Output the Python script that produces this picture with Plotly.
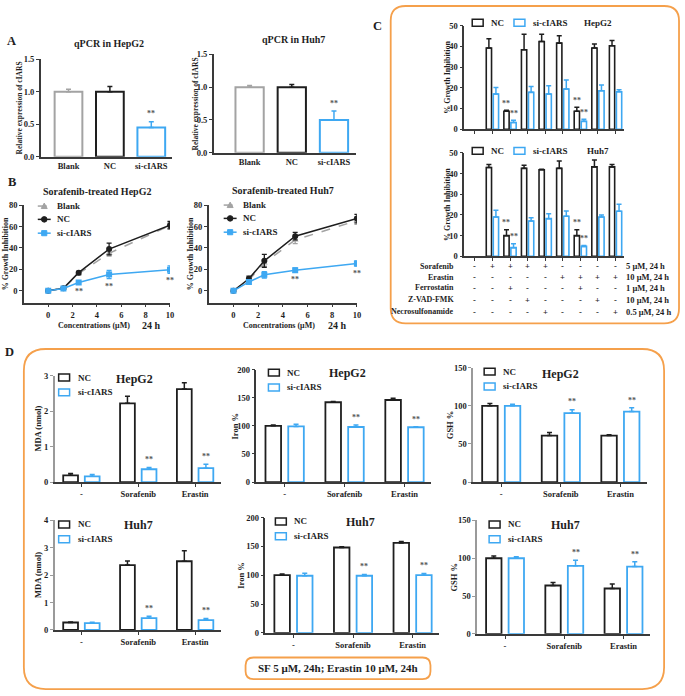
import plotly.graph_objects as go

W, H = 685, 696
FONT = "Liberation Serif, 'Times New Roman', serif"
BLACK = "#1e1e1e"
BLUE = "#3ea8f2"
GRAY = "#a3a3a3"
AXIS = "#3a3a3a"
LAXIS = "#9a9a9a"
ORANGE = "#f5a04b"

# ---------------- data ----------------
qpcr_groups = ["Blank", "NC", "si-cIARS"]
qpcr_hepg2 = [1.0, 1.0, 0.45]
qpcr_hepg2_err = [0.04, 0.08, 0.09]
qpcr_huh7 = [1.0, 1.0, 0.50]
qpcr_huh7_err = [0.025, 0.04, 0.135]
qpcr_sig = ["", "", "**"]

conc = [0, 1.25, 2.5, 5, 10]
b_hepg2_blank = [0, 2.5, 16, 35, 61]
b_hepg2_blank_err = [0.5, 0.5, 1.5, 2.5, 3]
b_hepg2_nc = [0, 2.5, 17, 39, 61.3]
b_hepg2_nc_err = [0.5, 0.5, 1.2, 5.5, 3.5]
b_hepg2_si = [0, 2.2, 7.8, 15.2, 19.8]
b_hepg2_si_err = [0.5, 0.5, 1.2, 3.8, 3.5]
b_hepg2_sig = ["", "", "**", "**", "**"]
b_huh7_blank = [0, 10, 26, 47.5, 65.5]
b_huh7_blank_err = [0.5, 2.5, 3, 3.5, 3.5]
b_huh7_nc = [0, 11.3, 28, 51, 67.4]
b_huh7_nc_err = [0.5, 2.5, 6, 3.5, 4]
b_huh7_si = [0, 8.3, 15, 19.3, 25.5]
b_huh7_si_err = [0.5, 2, 3, 2, 2.5]
b_huh7_sig = ["", "", "", "**", "**"]

c_hepg2_nc = [None, 39.2, 8.7, 38.4, 42.4, 41.6, 8.7, 39.2, 40.3]
c_hepg2_nc_err = [0, 4.5, 0.4, 7.5, 3.5, 3.6, 1.9, 1.9, 2.6]
c_hepg2_si = [None, 17.0, 3.2, 17.8, 17.0, 19.4, 3.8, 18.6, 18.1]
c_hepg2_si_err = [0, 3.2, 1.1, 2.8, 4.0, 4.4, 1.0, 2.8, 0.9]
c_huh7_nc = [None, 42.9, 10.0, 42.5, 41.8, 42.5, 10.0, 43.2, 43.2]
c_huh7_nc_err = [0, 1.5, 2.9, 1.5, 0.3, 3.5, 2.9, 3.3, 1.2]
c_huh7_si = [None, 19.0, 4.2, 17.1, 18.2, 19.4, 4.8, 19.0, 21.8]
c_huh7_si_err = [0, 3.3, 1.9, 1.6, 2.4, 2.5, 0.4, 1.0, 3.4]
c_sig = ["", "", "**", "", "", "", "**", "", ""]

treat_rows = ["Sorafenib", "Erastin", "Ferrostatin", "Z-VAD-FMK", "Necrosulfonamide"]
treat_doses = ["5 μM, 24 h", "10 μM, 24 h", "1 μM, 24 h", "10 μM, 24 h", "0.5 μM, 24 h"]
treat_signs = [
    ["-", "+", "+", "+", "+", "-", "-", "-", "-"],
    ["-", "-", "-", "-", "-", "+", "+", "+", "+"],
    ["-", "-", "+", "-", "-", "-", "+", "-", "-"],
    ["-", "-", "-", "+", "-", "-", "-", "+", "-"],
    ["-", "-", "-", "-", "+", "-", "-", "-", "+"],
]

d_groups = ["-", "Sorafenib", "Erastin"]
d_sig = ["", "**", "**"]
mda_hepg2_nc = [0.19, 2.22, 2.62]
mda_hepg2_nc_err = [0.05, 0.2, 0.18]
mda_hepg2_si = [0.16, 0.36, 0.39]
mda_hepg2_si_err = [0.05, 0.05, 0.11]
iron_hepg2_nc = [100, 142, 146]
iron_hepg2_nc_err = [1.5, 1.5, 3]
iron_hepg2_si = [99, 98, 97.5]
iron_hepg2_si_err = [4, 3.5, 1]
gsh_hepg2_nc = [100, 61, 61]
gsh_hepg2_nc_err = [3, 4, 1]
gsh_hepg2_si = [100, 90.5, 92.5]
gsh_hepg2_si_err = [2, 4.5, 5]
mda_huh7_nc = [0.27, 2.37, 2.51]
mda_huh7_nc_err = [0.02, 0.15, 0.38]
mda_huh7_si = [0.25, 0.43, 0.36]
mda_huh7_si_err = [0.03, 0.07, 0.06]
iron_huh7_nc = [100, 148, 156]
iron_huh7_nc_err = [2, 1.5, 2.5]
iron_huh7_si = [99, 99, 100]
iron_huh7_si_err = [4.5, 2, 3]
gsh_huh7_nc = [100, 64, 60]
gsh_huh7_nc_err = [3, 4, 6]
gsh_huh7_si = [100, 90, 89]
gsh_huh7_si_err = [2, 7.5, 6.5]

# ---------------- helpers ----------------
fig = go.Figure()
axes_layout = {}
annotations = []
shapes = []


def fx(x):
    return x / W


def fy(y):
    return 1 - y / H


def tfont(size=8.5, color=BLACK):
    return dict(family=FONT, size=size, color=color, weight="bold")


def add_axes(i, left, right, top, bottom, xr, yr, ytickvals, xtickvals=None,
             xticktext=None, ycol=AXIS, xcol=AXIS, xlabels=True, ytickformat=None):
    xn = "xaxis" if i == 1 else f"xaxis{i}"
    yn = "yaxis" if i == 1 else f"yaxis{i}"
    xref = "x" if i == 1 else f"x{i}"
    yref = "y" if i == 1 else f"y{i}"
    axes_layout[xn] = dict(domain=[fx(left), fx(right)], anchor=yref, range=xr,
                           showline=True, linecolor=xcol, linewidth=1.5,
                           ticks="outside", ticklen=3, tickwidth=1.2, tickcolor=xcol,
                           tickvals=xtickvals, ticktext=xticktext,
                           showticklabels=xlabels, tickfont=tfont(8.5),
                           showgrid=False, zeroline=False, fixedrange=True)
    axes_layout[yn] = dict(domain=[fy(bottom), fy(top)], anchor=xref, range=yr,
                           showline=True, linecolor=ycol, linewidth=1.5,
                           ticks="outside", ticklen=3, tickwidth=1.2, tickcolor=ycol,
                           tickvals=ytickvals, tickformat=ytickformat,
                           tickfont=tfont(8.5), showgrid=False, zeroline=False,
                           fixedrange=True)
    return xref, yref


def add_bars(xa, ya, vals, errs, color, center, width, sig=None, lw=1.8, pad=0.0):
    xs = list(range(len(vals)))
    fig.add_trace(go.Bar(
        x=xs, y=vals, width=width, offset=center - width / 2,
        marker=dict(color="white", line=dict(color=color, width=lw)),
        error_y=dict(type="data", array=errs, arrayminus=[0] * len(errs),
                     symmetric=False, color=color, thickness=1.5, width=2.5),
        xaxis=xa, yaxis=ya, showlegend=False, hoverinfo="skip"))
    if sig:
        for k, s in enumerate(sig):
            if s and vals[k] is not None:
                annotations.append(dict(x=k + center, y=vals[k] + errs[k] + pad,
                                        xref=xa, yref=ya, text=s, showarrow=False,
                                        yanchor="bottom", font=tfont(8, "#555555")))


def text(x, y, s, size=8.5, anchor="center", angle=0, color=BLACK):
    annotations.append(dict(x=fx(x), y=fy(y), xref="paper", yref="paper", text=s,
                            showarrow=False, xanchor=anchor, yanchor="middle",
                            textangle=angle, font=tfont(size, color)))


def legend_box(x0, y, color, label, size=9):
    shapes.append(dict(type="rect", xref="paper", yref="paper",
                       x0=fx(x0), x1=fx(x0 + 11), y0=fy(y + 3.5), y1=fy(y - 3.5),
                       line=dict(color=color, width=1.5), fillcolor="white"))
    text(x0 + 17, y, label, size=size, anchor="left")


def legend_line(x0, y, color, dash, symbol, label):
    shapes.append(dict(type="line", xref="paper", yref="paper",
                       x0=fx(x0), x1=fx(x0 + 13), y0=fy(y), y1=fy(y),
                       line=dict(color=color, width=1.5, dash=dash)))
    cx = x0 + 6.5
    if symbol == "circle":
        shapes.append(dict(type="circle", xref="paper", yref="paper",
                           x0=fx(cx - 2.8), x1=fx(cx + 2.8), y0=fy(y + 2.8), y1=fy(y - 2.8),
                           line=dict(color=color, width=1), fillcolor=color))
    elif symbol == "square":
        shapes.append(dict(type="rect", xref="paper", yref="paper",
                           x0=fx(cx - 2.6), x1=fx(cx + 2.6), y0=fy(y + 2.6), y1=fy(y - 2.6),
                           line=dict(color=color, width=1), fillcolor=color))
    else:
        path = (f"M {fx(cx)},{fy(y - 3)} L {fx(cx + 3)},{fy(y + 2.5)} "
                f"L {fx(cx - 3)},{fy(y + 2.5)} Z")
        shapes.append(dict(type="path", xref="paper", yref="paper", path=path,
                           line=dict(color=color, width=1), fillcolor=color))
    text(x0 + 17, y, label, size=9, anchor="left")


def rounded_box(x0, y0, x1, y1, r, width=1.8):
    rx, ry = r / W, r / H
    X0, X1, Y0, Y1 = fx(x0), fx(x1), fy(y0), fy(y1)  # Y0 top, Y1 bottom
    path = (f"M {X0 + rx},{Y0} L {X1 - rx},{Y0} Q {X1},{Y0} {X1},{Y0 - ry} "
            f"L {X1},{Y1 + ry} Q {X1},{Y1} {X1 - rx},{Y1} "
            f"L {X0 + rx},{Y1} Q {X0},{Y1} {X0},{Y1 + ry} "
            f"L {X0},{Y0 - ry} Q {X0},{Y0} {X0 + rx},{Y0} Z")
    shapes.append(dict(type="path", xref="paper", yref="paper", path=path,
                       line=dict(color=ORANGE, width=width), layer="below"))


# ---------------- Panel A ----------------
qcols = [GRAY, BLACK, BLUE]
for i, (left, right, top, bottom, xr, vals, errs) in enumerate([
        (41, 173, 55, 154, [-0.67, 2.5], qpcr_hepg2, qpcr_hepg2_err),
        (215, 358, 50, 150, [-0.85, 2.52], qpcr_huh7, qpcr_huh7_err)]):
    xa, ya = add_axes(1 + i, left, right, top, bottom, xr, [0, 1.5], [0, 0.5, 1.0, 1.5],
                      xtickvals=list(range(len(qpcr_groups))), xticktext=qpcr_groups,
                      ytickformat=".1f")
    axes_layout["xaxis" if i == 0 else "xaxis2"]["ticks"] = ""
    for k in range(len(qpcr_groups)):
        v = [None] * len(qpcr_groups)
        e = [0] * len(qpcr_groups)
        v[k] = vals[k]
        e[k] = errs[k]
        s = [""] * len(qpcr_groups)
        s[k] = qpcr_sig[k]
        add_bars(xa, ya, v, e, qcols[k], 0, 0.67, sig=s, lw=2, pad=0.02)

text(12, 37, "A", size=12.5)
text(110, 39, "qPCR in HepG2", size=10)
text(295, 35, "qPCR in Huh7", size=10)
text(20, 104, "Relative expression of cIARS", size=7.5, angle=-90)
text(197, 100, "Relative expression of cIARS", size=7.5, angle=-90)

# ---------------- Panel B ----------------
b_sets = [
    (3, 24, 171, b_hepg2_blank, b_hepg2_blank_err, b_hepg2_nc, b_hepg2_nc_err,
     b_hepg2_si, b_hepg2_si_err, b_hepg2_sig),
    (4, 210, 359, b_huh7_blank, b_huh7_blank_err, b_huh7_nc, b_huh7_nc_err,
     b_huh7_si, b_huh7_si_err, b_huh7_sig),
]
for (idx, left, right, bl, ble, nc, nce, si, sie, sig) in b_sets:
    xa, ya = add_axes(idx, left, right, 203, 302, [-2, 10], [-11, 80],
                      [0, 20, 40, 60, 80], xtickvals=[0, 2, 4, 6, 8, 10])
    for vals, errs, col, dash, sym, ms in [
            (bl, ble, GRAY, "dash", "triangle-up", 6),
            (nc, nce, BLACK, "solid", "circle", 6),
            (si, sie, BLUE, "solid", "square", 6)]:
        fig.add_trace(go.Scatter(
            x=conc, y=vals, mode="lines+markers",
            line=dict(color=col, width=1.5, dash=dash),
            marker=dict(symbol=sym, size=ms, color=col),
            error_y=dict(type="data", array=errs, color=col, thickness=1.3, width=2.5),
            xaxis=xa, yaxis=ya, showlegend=False, hoverinfo="skip"))
    for k, s in enumerate(sig):
        if s:
            annotations.append(dict(x=conc[k], y=si[k] - sie[k] - 7, xref=xa, yref=ya,
                                    text=s, showarrow=False, yanchor="middle",
                                    font=tfont(8, "#555555")))

text(12, 180, "B", size=12.5)
text(98, 189, "Sorafenib-treated HepG2", size=10)
text(285, 188, "Sorafenib-treated Huh7", size=10)
text(5, 252, "% Growth Inhibition", size=8, angle=-90)
text(191, 252, "% Growth Inhibition", size=8, angle=-90)
for cx, hx in [(95, 141), (281, 328)]:
    text(cx, 325, "Concentrations (μM)", size=8)
    text(hx, 325, "24 h", size=10, anchor="left")
for x0, y0 in [(38, 204), (225, 203)]:
    legend_line(x0, y0, GRAY, "dash", "triangle", "Blank")
    legend_line(x0, y0 + 13.5, BLACK, "solid", "circle", "NC")
    legend_line(x0, y0 + 27.5, BLUE, "solid", "square", "si-cIARS")

# ---------------- Panel C ----------------
rounded_box(393, 1, 683, 323, 15)
text(380, 21, "C", size=12.5)
groups_c = list(range(len(c_hepg2_nc)))
for idx, top, bottom, nc, nce, si, sie, cell, ly in [
        (5, 21, 126, c_hepg2_nc, c_hepg2_nc_err, c_hepg2_si, c_hepg2_si_err, "HepG2", 18),
        (6, 150, 255, c_huh7_nc, c_huh7_nc_err, c_huh7_si, c_huh7_si_err, "Huh7", 148)]:
    xa, ya = add_axes(idx, 467, 628, top, bottom, [-0.6, 8.5], [0, 50],
                      [0, 10, 20, 30, 40, 50], xtickvals=groups_c, xlabels=False)
    add_bars(xa, ya, nc, nce, BLACK, -0.2, 0.3, sig=c_sig, pad=0.3, lw=1.6)
    add_bars(xa, ya, si, sie, BLUE, 0.2, 0.3, sig=c_sig, pad=0.3, lw=1.6)
    text(450, (top + bottom) / 2, "% Growth Inhibition", size=8, angle=-90)
    legend_box(475, ly, BLACK, "NC")
    legend_box(517, ly, BLUE, "si-cIARS")
    text(585 if cell == "HepG2" else 588, ly, cell, size=9, anchor="left")

row_y = [265, 276, 287, 299, 311]
for r, name in enumerate(treat_rows):
    text(459, row_y[r], name, size=8, anchor="right")
    for g, s in enumerate(treat_signs[r]):
        annotations.append(dict(x=g, y=fy(row_y[r]), xref="x6", yref="paper", text=s,
                                showarrow=False, yanchor="middle",
                                font=tfont(8.5)))
    text(628, row_y[r], treat_doses[r], size=8.5, anchor="left")

# ---------------- Panel D ----------------
rounded_box(24, 349, 668, 694, 22)
text(10, 352, "D", size=12.5)
rounded_box(247, 662, 433, 684, 8)
text(340, 673, "SF 5 μM, 24h; Erastin 10 μM, 24h", size=11)

d_specs = [
    (7, 55, 222, 376, 484, [0, 3], [0, 1, 2, 3], LAXIS, mda_hepg2_nc, mda_hepg2_nc_err,
     mda_hepg2_si, mda_hepg2_si_err, "MDA (nmol)", 38, 59, 378, "HepG2", 135, 379, 0.03),
    (8, 258, 434, 370, 484, [0, 200], [0, 50, 100, 150, 200], AXIS, iron_hepg2_nc,
     iron_hepg2_nc_err, iron_hepg2_si, iron_hepg2_si_err, "Iron %", 236, 270, 373,
     "HepG2", 350, 373, 2),
    (9, 476, 651, 368, 484, [0, 150], [0, 50, 100, 150], LAXIS, gsh_hepg2_nc,
     gsh_hepg2_nc_err, gsh_hepg2_si, gsh_hepg2_si_err, "GSH %", 453, 487, 372,
     "HepG2", 564, 374, 1.5),
    (10, 55, 222, 523, 634, [0, 4], [0, 1, 2, 3, 4], LAXIS, mda_huh7_nc, mda_huh7_nc_err,
     mda_huh7_si, mda_huh7_si_err, "MDA (nmol)", 38, 59, 527, "Huh7", 139, 528, 0.04),
    (11, 267, 442, 520, 637, [0, 200], [0, 50, 100, 150, 200], AXIS, iron_huh7_nc,
     iron_huh7_nc_err, iron_huh7_si, iron_huh7_si_err, "Iron %", 243, 277, 524,
     "Huh7", 363, 525, 2),
    (12, 480, 654, 523, 638, [0, 150], [0, 50, 100, 150], LAXIS, gsh_huh7_nc,
     gsh_huh7_nc_err, gsh_huh7_si, gsh_huh7_si_err, "GSH %", 457, 492, 527,
     "Huh7", 569, 528, 1.5),
]
for (idx, left, right, top, bottom, yr, yt, ycol, nc, nce, si, sie, ytitle, ytx,
     lx, lyy, title, tx, ty, pad) in d_specs:
    xa, ya = add_axes(idx, left, right, top, bottom, [-0.47, 2.45], yr, yt,
                      xtickvals=list(range(len(d_groups))), xticktext=d_groups,
                      ycol=ycol)
    add_bars(xa, ya, nc, nce, BLACK, -0.19, 0.26)
    add_bars(xa, ya, si, sie, BLUE, 0.19, 0.26, sig=d_sig, pad=pad)
    text(ytx, (top + bottom) / 2, ytitle, size=8.5, angle=-90)
    legend_box(lx, lyy, BLACK, "NC")
    legend_box(lx, lyy + 15, BLUE, "si-cIARS")
    text(tx, ty, title, size=12)

fig.update_layout(
    width=W, height=H, margin=dict(l=0, r=0, t=0, b=0),
    paper_bgcolor="white", plot_bgcolor="rgba(0,0,0,0)",
    barmode="overlay", showlegend=False,
    annotations=annotations, shapes=shapes,
    font=dict(family=FONT, color=BLACK),
    **axes_layout,
)
fig.write_html("out.html", config={"displayModeBar": False},
               post_script="document.body.style.margin='0';document.body.style.overflow='hidden';")
